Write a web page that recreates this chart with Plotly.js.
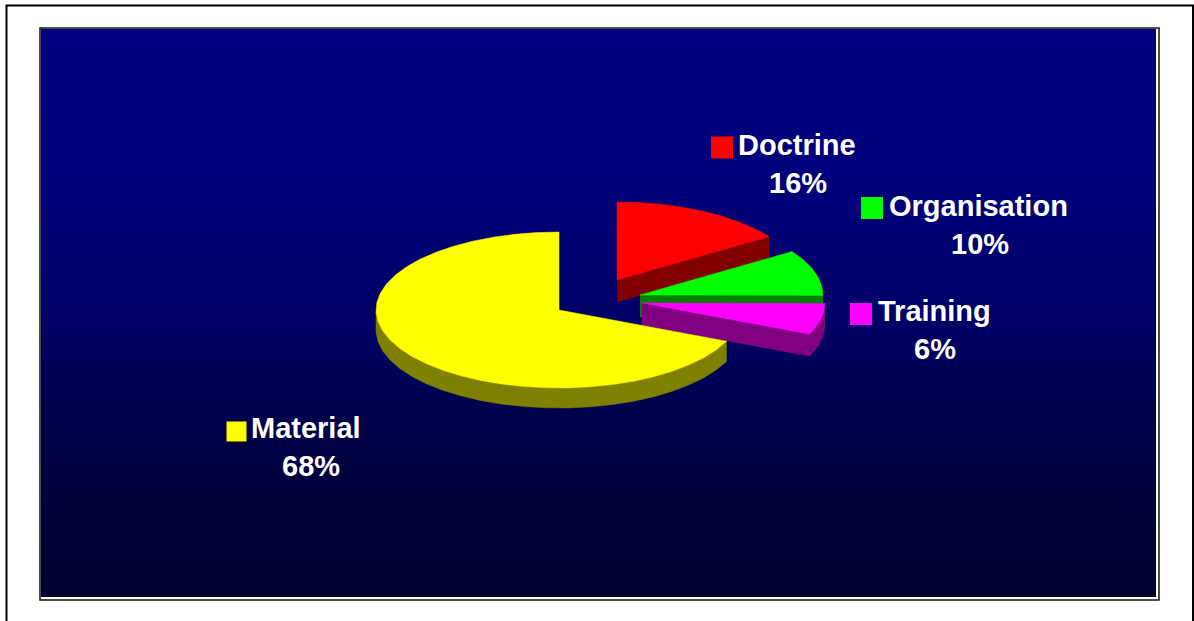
<!DOCTYPE html>
<html>
<head>
<meta charset="utf-8">
<script src="https://cdn.plot.ly/plotly-3.0.1.min.js"></script>
<style>html,body{margin:0;padding:0;background:#fff;overflow:hidden}#chart{width:1194px;height:621px}</style>
</head>
<body>
<div id="chart"></div>
<script>
// Data
const categories = ["Doctrine", "Organisation", "Training", "Material"];
const shares = [15.6, 9.5, 6.45, 68.45];
const tickLabels = ["16%", "10%", "6%", "68%"];

// Colours
const topColors = ["#ff0000", "#00ff00", "#ff00ff", "#ffff00"];
const sideColors = ["#800000", "#008000", "#800080", "#808000"];

// Geometry of the tilted pie (Plotly axes are set to page pixels)
const rx = 183, ry = 78;
const centreX = [617, 640, 642, 559];
const centreY = [280, 295, 303, 310];
const depth = [22, 22, 22, 20];
const STEP = 7;
// Label placement
const keyX = [722, 872, 861, 236.5], keyY = [147.5, 208, 314, 431.5];
const keySize = [22, 22, 22, 20];
const nameX = [738, 889, 878, 251], nameY = [145, 206, 311, 428];
const pctX = [798, 980, 935, 311], pctY = [183, 244, 349, 466];
// Background gradient stops: position down the panel, blue channel
const gradPos = [0, 0.25, 0.5, 0.7, 0.85, 1];
const gradBlue = [128, 124, 104, 72, 56, 46];

const total = shares.reduce((a, b) => a + b, 0);
const rim = (i, deg) => {
  const r = deg * Math.PI / 180;
  return [centreX[i] + rx * Math.sin(r), centreY[i] - ry * Math.cos(r)];
};
const traces = [];
const polygon = (pts, color, name) => traces.push({
  type: "scatter", mode: "lines", x: pts.map(p => p[0]), y: pts.map(p => p[1]),
  fill: "toself", fillcolor: color, line: {color: color, width: 0.5},
  hoverinfo: "skip", showlegend: false, name: name
});
let cum = 0;
categories.forEach((cat, i) => {
  const a0 = cum / total * 360;
  cum += shares[i];
  const a1 = cum / total * 360;
  const arc = [];
  const n = Math.max(2, Math.round((a1 - a0) / STEP));
  for (let k = 0; k <= n; k++) arc.push(a0 + (a1 - a0) * k / n);
  const d = depth[i];

  // outer wall on the front half of the rim
  const front = arc.filter(a => a >= 90 && a <= 270);
  if (front.length > 1) {
    const top = front.map(a => rim(i, a));
    const bot = top.slice().reverse().map(p => [p[0], p[1] + d]);
    polygon(top.concat(bot), sideColors[i], cat + " rim");
  }
  // cut wall on the closing radius, seen when it faces the viewer
  if (a1 < 180) {
    const e = rim(i, a1), c = [centreX[i], centreY[i]];
    polygon([c, e, [e[0], e[1] + d], [c[0], c[1] + d]], sideColors[i], cat + " wall");
  }
  // top face
  const pts = [[centreX[i], centreY[i]]].concat(arc.map(a => rim(i, a)));
  pts.push(pts[0]);
  polygon(pts, topColors[i], cat);
});

// Legend keys
traces.push({
  type: "scatter", mode: "markers", x: keyX, y: keyY, text: categories,
  marker: {symbol: "square", size: keySize, color: topColors, opacity: 1, line: {width: 0}},
  hoverinfo: "text", showlegend: false
});

const annFont = {family: "'Liberation Sans', Arial, sans-serif", size: 29, color: "#ffffff", weight: 700};
const annotations = [];
categories.forEach((cat, i) => {
  annotations.push({x: nameX[i], y: nameY[i], xref: "x", yref: "y", text: "<b>" + cat + "</b>",
    showarrow: false, xanchor: "left", yanchor: "middle", xshift: -2, font: annFont});
  annotations.push({x: pctX[i], y: pctY[i], xref: "x", yref: "y", text: "<b>" + tickLabels[i] + "</b>",
    showarrow: false, xanchor: "center", yanchor: "middle", font: annFont});
});

// Background: vertical navy-to-near-black gradient panel and frames
const shapes = [];
const px0 = 41, px1 = 1156, py0 = 29, py1 = 597;
const bandH = 4;
const blueAt = t => {
  let k = 0;
  while (k < gradPos.length - 2 && t > gradPos[k + 1]) k++;
  const f = (t - gradPos[k]) / (gradPos[k + 1] - gradPos[k]);
  return Math.round(gradBlue[k] + (gradBlue[k + 1] - gradBlue[k]) * f);
};
for (let y = py0; y < py1; y += bandH) {
  const t = (y - py0) / (py1 - py0);
  shapes.push({type: "rect", layer: "below", xref: "x", yref: "y", x0: px0, x1: px1,
    y0: y, y1: Math.min(y + bandH + 0.5, py1), fillcolor: "rgb(0,0," + blueAt(t) + ")", line: {width: 0}});
}
shapes.push({type: "rect", layer: "below", xref: "x", yref: "y", x0: 40, x1: 1159, y0: 28, y1: 600,
  fillcolor: "rgba(0,0,0,0)", line: {color: "#111111", width: 1.5}});
shapes.push({type: "rect", layer: "below", xref: "x", yref: "y", x0: 6.5, x1: 1193, y0: 5.5, y1: 640,
  fillcolor: "rgba(0,0,0,0)", line: {color: "#000000", width: 2}});

const hidden = {visible: false, fixedrange: true, showgrid: false, zeroline: false};
Plotly.newPlot("chart", traces, {
  width: 1194, height: 621,
  margin: {l: 0, r: 0, t: 0, b: 0},
  paper_bgcolor: "#ffffff", plot_bgcolor: "#ffffff",
  xaxis: Object.assign({range: [0, 1194]}, hidden),
  yaxis: Object.assign({range: [621, 0]}, hidden),
  shapes: shapes, annotations: annotations, showlegend: false
}, {displayModeBar: false, staticPlot: true});
</script>
</body>
</html>
